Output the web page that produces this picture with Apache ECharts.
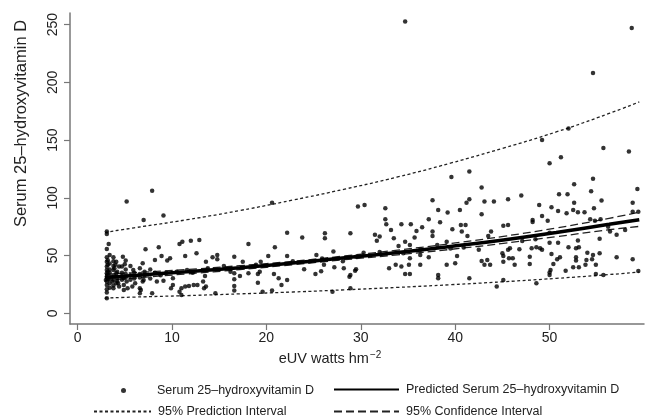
<!DOCTYPE html>
<html>
<head>
<meta charset="utf-8">
<script src="https://cdn.jsdelivr.net/npm/echarts@6/dist/echarts.min.js"></script>
<style>
html,body{margin:0;padding:0;background:#fff;}
#chart{width:646px;height:419px;}
</style>
</head>
<body>
<div id="chart"></div>
<script>
// ---- Data ----
const xTicks = [0, 10, 20, 30, 40, 50];
const yTicks = [0, 50, 100, 150, 200, 250];

// observed serum 25-hydroxyvitamin D vs eUV
const serumPoints = [
[3.1,70.7],[3.1,68.7],[3.3,60],[3.1,55.7],[3.4,50.5],[3.1,48.5],[3.1,44.7],[3.1,40.4],[3.1,37.5],[3.1,34.7],[3.1,31.7],[3.1,27.4],[3.1,24.5],[3.1,20.8],[3.1,17.9],[3.1,13],
[3.2,30],[3.2,33],[3.2,36],[3.2,42],[3.2,46],[3.4,22],[3.4,26],[3.4,35],[3.4,38],[3.4,43],
[3.0,28.9],[3.3,29.5],[3.6,31.7],[3.7,27.4],[3.8,48.5],[3.8,37.5],[3.8,24],[3.8,29],[3.8,41],[3.8,45],[3.8,21.7],
[3.9,39],[3.9,33.2],[4.0,41.9],[4.1,44.7],[4.1,34.7],[4.1,26],[4.2,28],[4.2,30],[4.2,36],
[4.3,26],[4.4,40.4],[4.4,23.1],[4.7,40.4],[4.7,29],[4.7,32],[4.7,35],[4.8,49],
[4.9,24.5],[4.9,30.3],[4.9,20.2],[5.0,42.5],[5.1,45.6],[5.1,31],[5.1,34],[5.1,38],
[5.2,27.4],[5.2,96.7],[5.3,21.7],[5.6,29],[5.6,33],[5.6,41],
[5.8,23.1],[5.9,37.5],[6.0,30],[6.0,35],[6.1,26],[6.6,21.7],[6.6,17.3],[6.6,31],[6.6,34],[6.6,39],
[6.7,20.2],[6.9,43.3],[6.9,27.4],[7.0,28.9],[7.0,80.8],
[7.1,33],[7.1,36],[7.2,55.5],[7.7,30],[7.7,38],[7.9,106],[7.9,17.3],[8.2,46.2],[8.2,35],[8.4,27.4],[8.6,57.2],[8.8,33],[8.9,49.6],[9.1,84.6],[9.1,28.2],
[9.4,35],[9.5,45.6],[9.8,47.7],[9.9,21.7],[10.1,24.5],[10.1,30.3],[10.5,36],[10.8,60],[10.8,18.7],[11.0,21.7],[11.0,15.9],[11.1,62],[11.4,49.6],[11.4,23.1],
[11.6,37.5],[11.8,23.7],[12.0,62.7],[12.2,35],[12.3,24.5],[12.6,52],[12.7,24.5],[12.9,63.5],[13.3,27.4],[13.4,21.7],
[13.6,44.7],[14.3,48.5],[14.8,50.5],[14.8,46.8],[16.6,49],[17.5,44.7],[20.2,49.6],[22.2,49.6],[13.5,32.3],[13.6,23.1],[14.6,17.3],[16.2,36],[16.6,34.7],[16.6,29.5],[16.6,23.7],[16.6,19.6],[17.2,32.3],[18.1,34.7],[18.1,60],[19.1,34],[19.1,26.5],[19.3,36],[19.6,18.7],[20.6,19.6],[20.6,95.8],[20.8,34],[20.9,57.2],[21.3,30.3],[21.6,24.5],[22.2,28.9],[22.2,69.8],[23.8,65.5],[24.0,38.1],
[15.5,41],[18.9,42],[19.4,44.5],[22.8,45],[13.8,39],
[29.7,92.4],[30.4,93.8],[32.6,91],[32.6,81.5],[32.7,77.1],[33.2,72.2],[34.3,77.1],[35.3,77.1],[35.9,71.3],[36.5,74.5],[26.2,69.3],[26.2,65],[28.9,69.3],[31.5,67.9],[32.0,66.4],[31.7,62.7],[33.5,65],[34.7,62],[35.7,65.5],[34.0,58.3],[35.2,59.2],[27.1,53.4],[25.3,50.5],[30.3,52.5],[25.2,34],[25.8,36.3],[26.1,41.9],[27.2,39.9],[28.2,39],[28.8,31.7],[28.9,33.2],[29.4,36.9],[29.5,38.1],[27.0,18.7],[28.9,21.7],[33.0,39],[33.7,41.9],[34.3,40.4],[34.7,34],[35.2,34],[35.1,41.9],[36.3,41.9],[35.2,47.7],[36.3,50.5],[36.3,54.9],
[25.9,47.5],[29.5,49],[32.0,53],[34.5,52],[28.1,45],
[39.6,117.9],[41.5,122.7],[42.8,108.8],[47.0,102],[45.6,98.8],[37.6,97.9],[43.1,96.7],[44.1,96.7],[41.5,98.8],[41.2,95.8],[38.2,89.5],[39.2,87.2],[40.5,89.5],[42.8,85.8],[37.2,81.5],[37.6,70.7],[37.6,67],[38.4,78.9],[39.7,72.8],[40.6,76.5],[40.7,70.7],[41.1,76.5],[41.3,67],[43.5,67],[43.8,70.7],[45.1,75.7],[45.6,76.5],
[37.2,48.5],[38.1,59.2],[39.1,41.9],[40.0,43.3],[40.2,49.6],[38.2,33.2],[38.2,30.3],[41.5,30.3],[42.8,45.3],[43.1,41.9],[43.4,46.2],[43.7,41.9],[45.1,49.6],[45.1,44.7],[45.6,54.9],[45.7,47.7],[46.1,47.7],[45.8,56.3],[46.3,41.9],[46.8,55.5],[47.9,49],[47.9,42.7],[45.1,28.9],[44.4,23.1],
[39.1,62],[42.5,54.9],[45.0,52],[40.9,57],[39.5,56],[47.1,62.5],
[48.2,80.8],[48.2,79],[49.2,84.3],[49.8,80.2],[48.9,93.8],[50.2,91.9],[50.9,88.6],[51.8,86.6],[52.6,95.8],[52.5,89.5],[53.0,87.5],[53.7,87.5],[55.5,97.6],[54.7,91],[58.8,95.8],[58.8,88],[59.4,88],[54.3,81.5],[54.8,80],[55.4,81.5],
[51.0,103],[51.9,103],[52.6,111.8],[54.4,105.7],[54.6,116.4],[59.3,107.7],[50.0,130],[51.2,135],[49.2,150],[52.0,160],[54.6,208],[55.7,143],[58.4,140],[58.7,247],[34.7,252.7],
[56.2,75],[56.4,70.7],[57.1,67.9],
[48.1,56.3],[48.6,57.2],[49.0,56.3],[49.2,54.9],[50.2,51.4],[51.1,48.5],[50.8,46.8],[50.4,42.7],[50.1,37.5],[50.0,35.2],[50.0,33.2],[48.6,26],[51.7,36.9],[52.0,57.2],[52.8,56.3],[53.1,57.2],[52.8,48.5],[52.8,45.6],[53.1,39.9],[52.5,39.9],[54.0,52.5],[54.6,50.5],[55.3,52],[53.9,46.2],[53.8,41.9],[54.5,46.8],[54.9,41.9],[54.9,34],[55.7,33.2],[57.1,48.5],[58.8,46.8],[59.4,36.7],
[50.0,69.8],[50.0,61],[50.9,61],[53.0,63],[55.3,64.5],[48.5,64],[58.0,72]
];

// fitted curves, read at these eUV values
const curveX    = [2.9, 6.0, 11.6, 17.2, 22.8, 28.3, 33.9, 39.5, 45.1, 50.7, 56.3, 59.5];
const predicted = [31, 32.8, 36, 39.5, 43.5, 48, 52.6, 57.8, 63.5, 70, 77, 81];
const ciUpper   = [33.8, 35.2, 37.9, 41.2, 45, 49.6, 54.7, 60.3, 66.6, 73.8, 82.2, 87.5];
const ciLower   = [28.4, 30.5, 34.1, 37.8, 42, 46.4, 50.6, 55.3, 60.5, 66.3, 72.3, 75.2];
const piUpper   = [70, 74, 81, 89, 98, 107.5, 118, 130, 143, 157, 173, 183];
const piLower   = [13.2, 14, 15.3, 16.8, 18.4, 20.3, 22.4, 24.7, 27.3, 30.2, 33.5, 35.7];

const names = {
  obs: 'Serum 25\u2013hydroxyvitamin D',
  pred: 'Predicted Serum 25\u2013hydroxyvitamin D',
  pi: '95% Prediction Interval',
  ci: '95% Confidence Interval'
};

// ---- Chart ----
const zip = (xs, ys) => xs.map((x, i) => [x, ys[i]]);
const FONT = 'Liberation Sans, Arial, Helvetica, sans-serif';
const chart = echarts.init(document.getElementById('chart'), null, {renderer: 'canvas'});

function legendText(padLeft) {
  return {fontSize: 12.5, color: '#222', fontFamily: FONT, padding: [0, 0, 0, padLeft]};
}
chart.setOption({
  animation: false,
  backgroundColor: '#fff',
  textStyle: {fontFamily: FONT},
  grid: {left: 70, right: 2, top: 13, bottom: 95, containLabel: false},
  xAxis: {
    type: 'value', min: -0.8, max: 60,
    name: 'eUV watts hm{sup|\u22122}', nameLocation: 'middle', nameGap: 19,
    nameTextStyle: {fontSize: 14.5, color: '#222', padding: [0, 54, 0, 0],
      rich: {sup: {fontSize: 10, verticalAlign: 'top', padding: [0, 0, 8, 1], color: '#222'}}},
    axisLine: {show: true, onZero: false, lineStyle: {color: '#777', width: 1.5}},
    axisTick: {show: true, length: 6, lineStyle: {color: '#777', width: 1.2}, customValues: xTicks},
    axisLabel: {fontSize: 14, color: '#222', margin: 7, customValues: xTicks},
    splitLine: {show: false}
  },
  yAxis: {
    type: 'value', min: -9.3, max: 260,
    name: 'Serum 25\u2013hydroxyvitamin D', nameLocation: 'middle', nameGap: 40, nameRotate: 90,
    nameTextStyle: {fontSize: 16.5, color: '#222', padding: [0, 0, 0, 90]},
    axisLine: {show: true, onZero: false, lineStyle: {color: '#777', width: 1.5}},
    axisTick: {show: true, length: 6, lineStyle: {color: '#777', width: 1.2}, customValues: yTicks},
    axisLabel: {fontSize: 14, color: '#222', rotate: 90, margin: 10, customValues: yTicks},
    splitLine: {show: false}
  },
  legend: [
    {data: [{name: names.obs, icon: 'circle'}], left: 116, top: 379, itemWidth: 5, itemHeight: 5,
     textStyle: legendText(26)},
    {data: [names.pred], left: 328, top: 378, itemWidth: 65, itemHeight: 6,
     itemStyle: {opacity: 0}, textStyle: legendText(2)},
    {data: [names.pi], left: 88, top: 400, itemWidth: 57, itemHeight: 6,
     itemStyle: {opacity: 0}, textStyle: legendText(2)},
    {data: [names.ci], left: 328, top: 400, itemWidth: 65, itemHeight: 6,
     itemStyle: {opacity: 0}, textStyle: legendText(2)}
  ],
  series: [
    {
      name: names.pi, type: 'line', data: zip(curveX, piUpper), smooth: true, symbol: 'none',
      lineStyle: {color: '#222', width: 1.3, type: [3, 2.5]}, z: 2
    },
    {
      name: names.pi, type: 'line', data: zip(curveX, piLower), smooth: true, symbol: 'none',
      lineStyle: {color: '#222', width: 1.3, type: [3, 2.5]}, z: 2
    },
    {
      name: names.ci, type: 'line', data: zip(curveX, ciUpper), smooth: true, symbol: 'none',
      lineStyle: {color: '#222', width: 1.3, type: [8, 4]}, z: 3
    },
    {
      name: names.ci, type: 'line', data: zip(curveX, ciLower), smooth: true, symbol: 'none',
      lineStyle: {color: '#222', width: 1.3, type: [8, 4]}, z: 3
    },
    {
      name: names.obs, type: 'scatter', data: serumPoints, symbol: 'circle', symbolSize: 4.5,
      itemStyle: {color: '#000'}, z: 4
    },
    {
      name: names.pred, type: 'line', data: zip(curveX, predicted), smooth: true, symbol: 'none',
      lineStyle: {color: '#000', width: 3.5}, z: 5
    }
  ]
});
</script>
</body>
</html>
